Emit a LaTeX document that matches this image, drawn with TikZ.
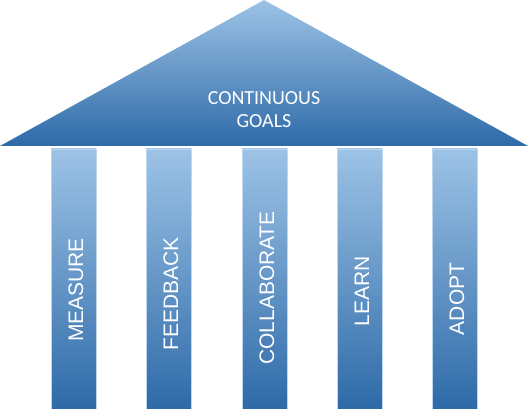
\documentclass[tikz,border=0pt]{standalone}
\definecolor{roofblue}{RGB}{157, 195, 230}
\definecolor{deepblue}{RGB}{46, 106, 168}
\definecolor{edgeblue}{RGB}{190, 215, 240}
\usepackage{fontspec}
\setmainfont{Liberation Sans}
\newfontfamily\rooffont{Carlito}
\usepackage{tikz}

\begin{document}
\begin{tikzpicture}[x=1pt, y=1pt,
    pillar/.style={top color=roofblue, bottom color=deepblue, draw=edgeblue, line width=0.6pt},
    pillartext/.style={text=white, rotate=90, font=\fontsize{21}{24}\selectfont}]
        \useasboundingbox (0,0) rectangle (528,409);

        % Roof
        \shade[top color=roofblue, bottom color=deepblue] (0,263) -- (264,409) -- (528,263) -- cycle;
        \node[text=white, align=center, font=\rooffont\fontsize{20}{23}\selectfont] (goals) at (264,299) {CONTINUOUS\\GOALS};

        % Pillar 1
        \path[pillar] (51,0) rectangle (96,260);
        \node[pillartext] (measure) at (76,119) {MEASURE};

        % Pillar 2
        \path[pillar] (146,0) rectangle (191,260);
        \node[pillartext] (feedback) at (171,115) {FEEDBACK};

        % Pillar 3
        \path[pillar] (242,0) rectangle (287,260);
        \node[pillartext] (collaborate) at (267,121) {COLLABORATE};

        % Pillar 4
        \path[pillar] (337,0) rectangle (382,260);
        \node[pillartext] (learn) at (362,118) {LEARN};

        % Pillar 5
        \path[pillar] (432,0) rectangle (477,260);
        \node[pillartext] (adopt) at (457,110) {ADOPT};
    \end{tikzpicture}
\end{document}
